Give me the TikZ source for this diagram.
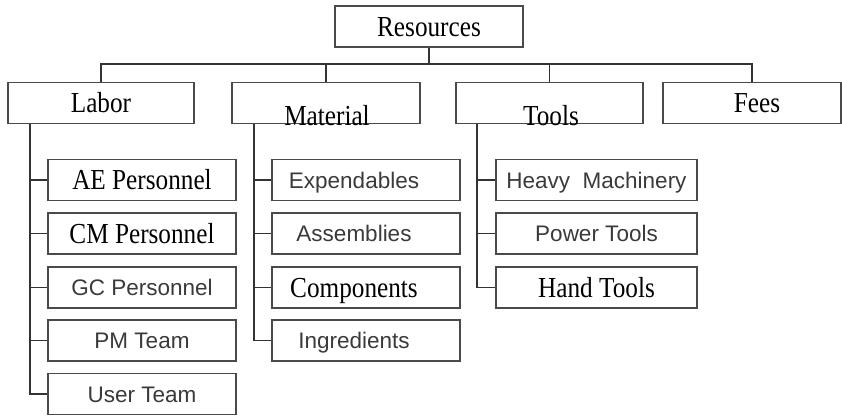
\documentclass[tikz,border=0pt]{standalone}
\usepackage{fontspec}
\newfontfamily\serifface{Liberation Serif}[FakeStretch=0.87]
\newfontfamily\sansface{Liberation Sans}
\definecolor{boxline}{HTML}{4A4A4A}
\definecolor{wirecol}{HTML}{333333}
\definecolor{sanstext}{HTML}{3A3A3A}
\newcommand{\leftnudge}{\hspace*{-24pt}}
\begin{document}
\begin{tikzpicture}[x=1pt,y=-1pt,
  box/.style={draw=boxline, line width=1.5pt, rectangle, inner sep=0pt,
              minimum height=41pt, fill=white},
  serif/.style={font=\serifface\fontsize{29}{29}\selectfont, text=black,
                text height=19.2pt, text depth=0pt, inner sep=0pt},
  sans/.style={font=\sansface\fontsize{22.5}{22.5}\selectfont, text=sanstext,
               text height=16.1pt, text depth=0pt},
  labchild/.style={box, minimum width=188pt},
  matchild/.style={box, minimum width=188pt},
  toolchild/.style={box, minimum width=201pt},
  conn/.style={draw=wirecol, line width=1.8pt, line join=miter}]
\useasboundingbox (0,0) rectangle (842,415);
\fill[white] (0,0) rectangle (842,415);

% top of the tree
\node[box, minimum width=188pt, serif] (res) at (429,26.5) {Resources};

% second level
\node[box, minimum width=186pt, serif] (labor) at (101,103) {Labor};
\node[box, minimum width=188pt] (material) at (326,103) {};
\node[box, minimum width=187pt] (tools) at (549.5,103) {};
\node[box, minimum width=178pt, serif] (fees) at (752,103) {\hspace*{10pt}Fees};

% labor items
\node[labchild, serif] (ae) at (142,180) {AE Personnel};
\node[labchild, serif] (cm) at (142,233.5) {CM Personnel};
\node[labchild, sans]  (gc) at (142,287.5) {GC Personnel};
\node[labchild, sans]  (pm) at (142,340.5) {PM Team};
\node[labchild, sans]  (ut) at (142,394) {User Team};

% material items
\node[matchild, sans]  (exp) at (366,180) {\leftnudge Expendables};
\node[matchild, sans]  (asm) at (366,233.5) {\leftnudge Assemblies};
\node[matchild, serif] (cmp) at (366,287.5) {\leftnudge Components};
\node[matchild, sans]  (ing) at (366,340.5) {\leftnudge Ingredients};

% tools items
\node[toolchild, sans]  (hvy) at (596.5,180) {Heavy\ \ Machinery};
\node[toolchild, sans]  (pwr) at (596.5,233.5) {Power Tools};
\node[toolchild, serif] (hnd) at (596.5,287.5) {Hand Tools};

% labels sitting low in their boxes
\node[serif] (materialtext) at (327,116) {Material};
\node[serif] (toolstext) at (551,116) {Tools};

% bus from Resources to the second level
\coordinate (bus) at (429,64);
\draw[conn] (res.south) -- (bus);
\draw[conn] (labor.north) |- (bus) -| (fees.north);
\draw[conn] (material.north) -- (material.north |- bus);
\draw[conn] (tools.north) -- (tools.north |- bus);

% branch lines to the items
\coordinate (ldrop) at ([xshift=23pt]labor.south west);
\coordinate (mdrop) at ([xshift=23pt]material.south west);
\coordinate (tdrop) at ([xshift=22pt]tools.south west);

\draw[conn] (ldrop) |- (ut.west);
\foreach \n in {ae,cm,gc,pm} \draw[conn] (\n.west) -- (\n.west -| ldrop);

\draw[conn] (mdrop) |- (ing.west);
\foreach \n in {exp,asm,cmp} \draw[conn] (\n.west) -- (\n.west -| mdrop);

\draw[conn] (tdrop) |- (hnd.west);
\foreach \n in {hvy,pwr} \draw[conn] (\n.west) -- (\n.west -| tdrop);
\end{tikzpicture}
\end{document}
